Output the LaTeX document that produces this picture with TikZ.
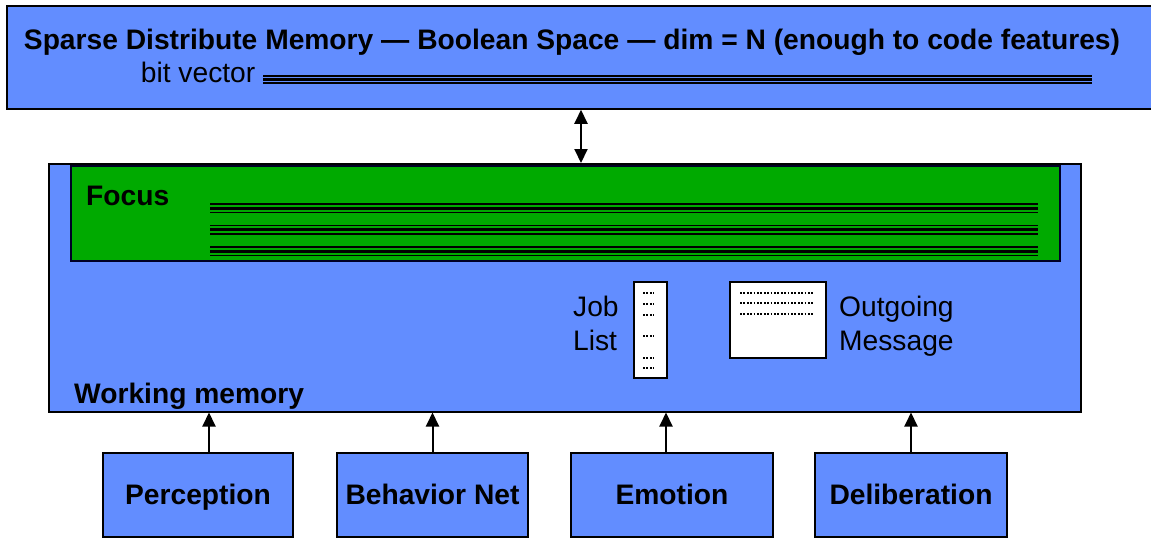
\documentclass[tikz,border=0pt]{standalone}
\usepackage{fontspec}
\setmainfont{Liberation Sans}
\usetikzlibrary{arrows.meta}
\definecolor{wmblue}{RGB}{98,141,255}
\definecolor{focusgreen}{RGB}{0,170,0}
\tikzset{
  txt/.style={font=\fontsize{28.2}{34}\selectfont, inner sep=0pt},
  btxt/.style={font=\fontsize{28.2}{34}\selectfont\bfseries, inner sep=0pt},
  modlabel/.style={btxt, anchor=base, yshift=-9pt},
  bluebox/.style={draw=black, fill=wmblue, line width=2pt, inner sep=0pt},
  greenbox/.style={draw=black!85!blue, fill=focusgreen, line width=2.5pt, inner sep=0pt},
  whitebox/.style={draw=black, fill=white, line width=2pt, inner sep=0pt},
  thinbar/.style={line width=1.5pt},
  thickbar/.style={line width=3.2pt},
  dotrow/.style={line width=2pt, dash pattern=on 1.8pt off 1.6pt},
  uparrow/.style={line width=2pt, -{Triangle[length=14pt,width=13pt]}},
  biarrow/.style={line width=2pt, {Triangle[length=14pt,width=13pt]}-{Triangle[length=14pt,width=13pt]}},
}
\begin{document}
\begin{tikzpicture}[x=1pt,y=-1pt]
\useasboundingbox (0,0) rectangle (1151,538);
\clip (0,0) rectangle (1151,538);

% Sparse distributed memory (runs off the right edge)
\node[bluebox, line width=1.5pt, minimum width=1163pt, minimum height=103pt] (sdm) at (588.5,57.5) {};
\node[btxt, anchor=base] (title) at (572,49.5) {Sparse Distribute Memory — Boolean Space — dim = N (enough to code features)};
\node[txt, anchor=base west] (bv) at (140.7,82) {bit vector};
\draw[thinbar]  (263,76)   -- (1092,76);
\draw[thickbar] (263,79.5) -- (1092,79.5);
\draw[thinbar]  (263,83)   -- (1092,83);

% Working memory
\node[bluebox, minimum width=1032pt, minimum height=247.5pt] (wm) at (565,287.75) {};
\node[btxt, anchor=base west] (wmlabel) at (74,403) {Working memory};

% Focus
\node[greenbox, minimum width=989pt, minimum height=95pt] (focus) at (565.5,213.5) {};
\node[btxt, anchor=base west] (focuslabel) at (86,205) {Focus};
\foreach \g in {204,225.5,247}{
  \draw[thinbar]  (210,\g)       -- (1038,\g);
  \draw[thickbar] (210,\g+4.3)   -- (1038,\g+4.3);
  \draw[thinbar]  (210,\g+8.6)   -- (1038,\g+8.6);
}

% Job list
\node[txt, anchor=base west] (job) at (573,316) {Job};
\node[txt, anchor=base west] (list) at (573,350) {List};
\node[whitebox, minimum width=33pt, minimum height=96pt] (joblist) at (650.5,330) {};
\foreach \r in {293,303.5,314.5,336,357.5,368}{
  \draw[dotrow] (643,\r) -- (654,\r);
}

% Outgoing message
\node[whitebox, minimum width=96pt, minimum height=75.5pt] (outmsg) at (778,319.75) {};
\foreach \r in {293.3,303.3,314.3}{
  \draw[dotrow] (740,\r) -- (814,\r);
}
\node[txt, anchor=base west] (outgoing) at (839,316) {Outgoing};
\node[txt, anchor=base west] (message) at (839,350) {Message};

% Input modules
\node[bluebox, minimum width=190pt, minimum height=84pt] (perc) at (198,495) {};
\node[modlabel] at (perc.center) {Perception};
\node[bluebox, minimum width=191pt, minimum height=84pt] (beh) at (432.5,495) {};
\node[modlabel] at (beh.center) {Behavior Net};
\node[bluebox, minimum width=202pt, minimum height=84pt] (emo) at (672,495) {};
\node[modlabel] at (emo.center) {Emotion};
\node[bluebox, minimum width=192pt, minimum height=84pt] (delib) at (911,495) {};
\node[modlabel] at (delib.center) {Deliberation};

% Connectors
\coordinate (axis) at (581,0);
\draw[biarrow] (axis |- sdm.south) -- (axis |- wm.north);
\draw[uparrow] ([xshift=11pt]perc.north) -- ([xshift=11pt]perc.north |- wm.south);
\draw[uparrow] (beh.north) -- (beh.north |- wm.south);
\draw[uparrow] ([xshift=-6pt]emo.north) -- ([xshift=-6pt]emo.north |- wm.south);
\draw[uparrow] (delib.north) -- (delib.north |- wm.south);
\end{tikzpicture}
\end{document}
